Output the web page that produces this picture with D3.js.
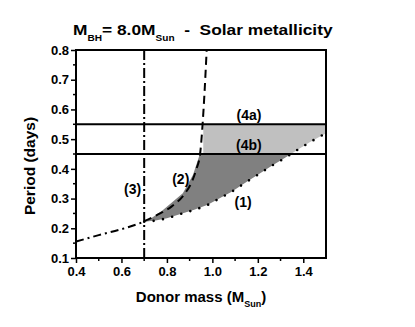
<!doctype html>
<html>
<head>
<style>
body { margin:0; background:#fff; }
svg text { font-family: "Liberation Sans", Arial, sans-serif; font-weight: bold; fill:#000; }
</style>
<script src="https://d3js.org/d3.v7.min.js"></script>
</head>
<body>
<script>

// chart data
var xTicks = [0.4, 0.6, 0.8, 1.0, 1.2, 1.4];
var yTicks = [0.1, 0.2, 0.3, 0.4, 0.5, 0.6, 0.7, 0.8];

// (1) lower limit, dotted
var curve1 = [[0.70,0.222],[0.75,0.226],[0.80,0.234],[0.86,0.248],[0.92,0.262],[0.98,0.279],
              [1.03,0.300],[1.085,0.323],[1.15,0.356],[1.20,0.380],[1.26,0.410],[1.32,0.437],
              [1.37,0.462],[1.43,0.490],[1.50,0.520]];
// (2) dashed
var curve2 = [[0.70,0.224],[0.77,0.250],[0.82,0.273],[0.88,0.318],[0.91,0.357],[0.93,0.400],
              [0.946,0.450],[0.957,0.550],[0.965,0.650],[0.975,0.800]];
// lower branch below 0.7, dash-dot
var curveLow = [[0.40,0.155],[0.50,0.177],[0.60,0.197],[0.70,0.222]];
// (3) vertical limit
var limit3 = 0.7;
// (4a) / (4b) horizontal limits
var limit4a = 0.55, limit4b = 0.45;
// left edge of the shaded area
var shadeEdge = [[0.72,0.228],[0.78,0.260],[0.87,0.318],[0.915,0.380],[0.945,0.450],[0.945,0.60],[1.6,0.60]];
var lightEdge = 0.96;

var labels = [
  {t:"(4a)", x:1.161, y:0.564},
  {t:"(4b)", x:1.161, y:0.463},
  {t:"(1)",  x:1.135, y:0.272},
  {t:"(2)",  x:0.861, y:0.349},
  {t:"(3)",  x:0.649, y:0.315}
];

var W = 415, H = 327;
var m = {left:76, top:50, right:89, bottom:69};
var w = W - m.left - m.right, h = H - m.top - m.bottom;

var svg = d3.select("body").append("svg").attr("width", W).attr("height", H);

var x = d3.scaleLinear().domain([0.4, 1.5]).range([m.left, m.left + w]);
var y = d3.scaleLinear().domain([0.1, 0.8]).range([m.top + h, m.top]);

var defs = svg.append("defs");
defs.append("clipPath").attr("id", "clipDark").append("rect")
   .attr("x", x(0.4)).attr("width", w)
   .attr("y", y(limit4b)).attr("height", y(0.1) - y(limit4b));
defs.append("clipPath").attr("id", "clipLight").append("rect")
   .attr("x", x(0.4)).attr("width", w)
   .attr("y", y(limit4a)).attr("height", y(limit4b) - y(limit4a));
defs.append("clipPath").attr("id", "clipPlot").append("rect")
   .attr("x", x(0.4)).attr("width", w).attr("y", y(0.8)).attr("height", h);

var line = d3.line().x(function(d){ return x(d[0]); }).y(function(d){ return y(d[1]); });
var smooth = d3.line().x(function(d){ return x(d[0]); }).y(function(d){ return y(d[1]); })
   .curve(d3.curveMonotoneX);

// shaded regions
var c1rev = curve1.slice().reverse();
svg.append("path")
   .attr("d", line(shadeEdge.concat(c1rev)) + "Z")
   .attr("fill", "#808080")
   .attr("clip-path", "url(#clipDark)");
var lightPoly = [[lightEdge, 0.8],[1.6, 0.8],[1.6, 0.52]].concat(c1rev.filter(function(d){ return d[0] >= lightEdge; }))
   .concat([[lightEdge, 0.27]]);
svg.append("path")
   .attr("d", line(lightPoly) + "Z")
   .attr("fill", "#c0c0c0")
   .attr("clip-path", "url(#clipLight)");

var g = svg.append("g").attr("clip-path", "url(#clipPlot)");

// horizontal limits
[limit4a, limit4b].forEach(function(p){
  g.append("line").attr("x1", x(0.4)).attr("x2", x(1.5)).attr("y1", y(p)).attr("y2", y(p))
   .attr("stroke", "#000").attr("stroke-width", 2);
});
// vertical limit (3)
g.append("line").attr("x1", x(limit3)).attr("x2", x(limit3)).attr("y1", y(0.1)).attr("y2", y(0.8))
 .attr("stroke", "#000").attr("stroke-width", 2).attr("stroke-dasharray", "10,3,2,3");

g.append("path").attr("d", smooth(curveLow)).attr("fill", "none")
 .attr("stroke", "#000").attr("stroke-width", 2).attr("stroke-dasharray", "8,4,2,4");
g.append("path").attr("d", smooth(curve2)).attr("fill", "none")
 .attr("stroke", "#000").attr("stroke-width", 2).attr("stroke-dasharray", "8,5");
g.append("path").attr("d", smooth(curve1)).attr("fill", "none")
 .attr("stroke", "#000").attr("stroke-width", 2.6).attr("stroke-linecap", "round")
 .attr("stroke-dasharray", "0,9.5");

// frame
svg.append("rect").attr("x", x(0.4)).attr("y", y(0.8)).attr("width", w).attr("height", h)
   .attr("fill", "none").attr("stroke", "#000").attr("stroke-width", 2);

// axes
var xAxis = svg.append("g").attr("transform", "translate(0," + y(0.1) + ")")
   .call(d3.axisBottom(x).tickValues(xTicks).tickFormat(d3.format(".1f")).tickSize(5).tickPadding(4));
var yAxis = svg.append("g").attr("transform", "translate(" + x(0.4) + ",0)")
   .call(d3.axisLeft(y).tickValues(yTicks).tickFormat(d3.format(".1f")).tickSize(5).tickPadding(2));
[xAxis, yAxis].forEach(function(a){
  a.select(".domain").remove();
  a.selectAll(".tick line").attr("stroke", "#000").attr("stroke-width", 1.5);
  a.selectAll(".tick text").style("font-size", "13px").style("font-family", "Liberation Sans, Arial, sans-serif")
   .style("font-weight", "bold");
});
// minor ticks
svg.append("g").selectAll("line").data(d3.range(0.5, 1.5, 0.2)).enter().append("line")
   .attr("x1", function(d){ return x(d); }).attr("x2", function(d){ return x(d); })
   .attr("y1", y(0.1)).attr("y2", y(0.1) + 3).attr("stroke", "#000").attr("stroke-width", 1.5);
svg.append("g").selectAll("line").data(d3.range(0.15, 0.8, 0.1)).enter().append("line")
   .attr("y1", function(d){ return y(d); }).attr("y2", function(d){ return y(d); })
   .attr("x1", x(0.4)).attr("x2", x(0.4) - 3).attr("stroke", "#000").attr("stroke-width", 1.5);

// curve labels
svg.append("g").selectAll("text").data(labels).enter().append("text")
   .attr("x", function(d){ return x(d.x); }).attr("y", function(d){ return y(d.y); })
   .attr("text-anchor", "middle").style("font-size", "14px")
   .text(function(d){ return d.t; });

// title
var title = svg.append("text").attr("transform", "translate(73,35) scale(1.12,1)").style("font-size", "15.5px")
   .attr("xml:space", "preserve");
title.append("tspan").text("M");
title.append("tspan").attr("dy", 6).style("font-size", "9px").text("BH");
title.append("tspan").attr("dy", -6).text("= 8.0M");
title.append("tspan").attr("dy", 6).style("font-size", "9px").text("Sun");
title.append("tspan").attr("dy", -6).text("  -  Solar metallicity");

// axis titles
var xt = svg.append("text").attr("x", x(0.95)).attr("y", 302).attr("text-anchor", "middle")
   .style("font-size", "15px");
xt.append("tspan").text("Donor mass (M");
xt.append("tspan").attr("dy", 5).style("font-size", "9px").text("Sun");
xt.append("tspan").attr("dy", -5).text(")");

svg.append("text").attr("transform", "translate(35,166) rotate(-90)").attr("text-anchor", "middle")
   .style("font-size", "15.5px").text("Period (days)");

</script>
</body>
</html>
